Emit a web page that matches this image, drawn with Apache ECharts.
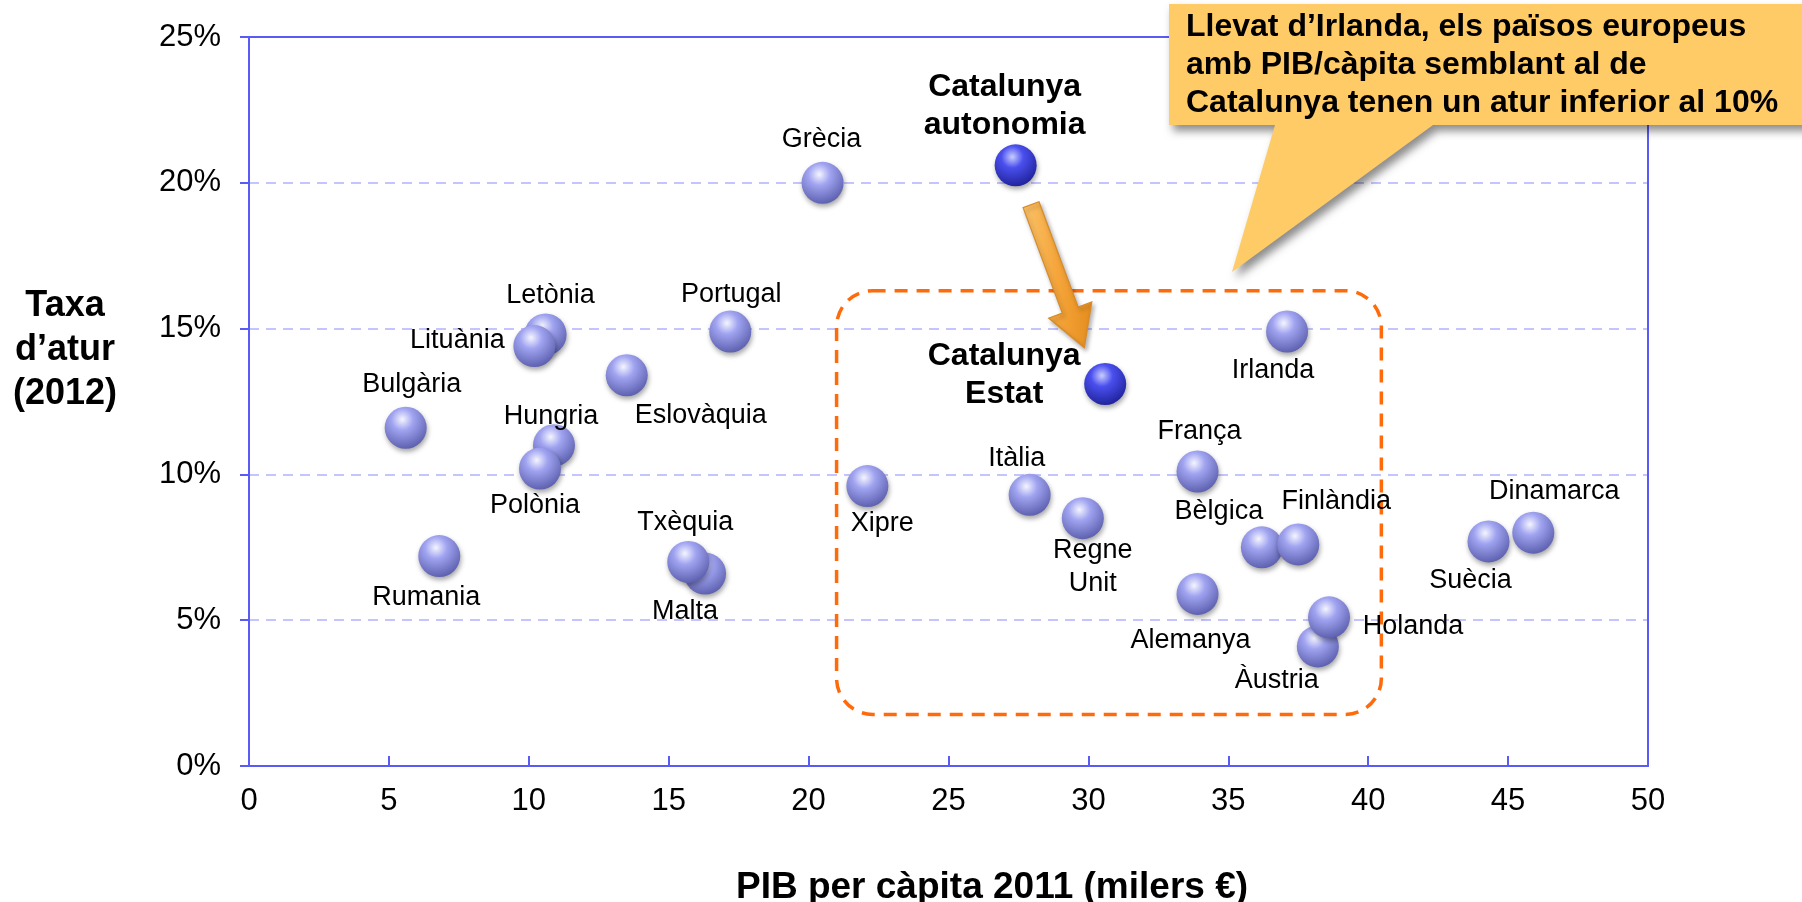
<!DOCTYPE html>
<html>
<head>
<meta charset="utf-8">
<script src="https://cdn.jsdelivr.net/npm/echarts@6/dist/echarts.min.js"></script>
<style>
  html, body { margin: 0; padding: 0; background: #fff; }
  #chart { width: 1802px; height: 902px; }
</style>
</head>
<body>
<div id="chart"></div>
<script>
// País, PIB per càpita 2011 (milers €), taxa d'atur 2012 (%)
const countries = ['Bulgària', 'Rumania', 'Letònia', 'Lituània', 'Hungria', 'Polònia', 'Eslovàquia',
  'Portugal', 'Malta', 'Txèquia', 'Grècia', 'Xipre', 'Itàlia', 'Regne\nUnit', 'França', 'Alemanya',
  'Bèlgica', 'Finlàndia', 'Àustria', 'Holanda', 'Irlanda', 'Suècia', 'Dinamarca'];
const pib = [5.6, 6.8, 10.6, 10.2, 10.9, 10.4, 13.5, 17.2, 16.3, 15.7, 20.5, 22.1, 27.9, 29.8, 33.9, 33.9,
  36.2, 37.5, 38.2, 38.6, 37.1, 44.3, 45.9];
const atur = [11.6, 7.2, 14.8, 14.4, 11.0, 10.2, 13.4, 14.9, 6.6, 7.0, 20.0, 9.6, 9.3, 8.5, 10.1, 5.9,
  7.5, 7.6, 4.1, 5.1, 14.9, 7.7, 8.0];

const catNames = ['Catalunya\nautonomia', 'Catalunya\nEstat'];
const catPib = [27.4, 30.6];
const catAtur = [20.6, 13.1];

const xTicks = [0, 50, 5];
const yTicks = [0, 25, 5];

const noteLines = ['Llevat d\u2019Irlanda, els països europeus', 'amb PIB/càpita semblant al de', 'Catalunya tenen un atur inferior al 10%'];

// posició de les etiquetes respecte al centre de la bola (px)
const labelOffset = {
  'Bulgària': [6, -43], 'Rumania': [-13, 41], 'Letònia': [5, -39], 'Lituània': [-77, -6],
  'Hungria': [-3, -29], 'Polònia': [-5, 37], 'Eslovàquia': [74, 40], 'Portugal': [1, -37],
  'Txèquia': [-3, -39], 'Malta': [-20, 38], 'Grècia': [-1, -43], 'Xipre': [15, 37],
  'Itàlia': [-13, -36], 'Regne\nUnit': [10, 49], 'França': [2, -40], 'Bèlgica': [-43, -36],
  'Finlàndia': [38, -43], 'Alemanya': [-7, 47], 'Holanda': [84, 9], 'Àustria': [-41, 34],
  'Irlanda': [-14, 39], 'Suècia': [-18, 39], 'Dinamarca': [21, -41],
  'Catalunya\nautonomia': [-11, -59], 'Catalunya\nEstat': [-101, -9]
};

const FONT = '"Liberation Sans", Arial, sans-serif';
const BLUE = '#5a5af5';

function sphere(light, mid, dark) {
  return {
    type: 'radial', x: 0.42, y: 0.3, r: 0.75,
    colorStops: [
      { offset: 0, color: light },
      { offset: 0.35, color: mid },
      { offset: 1, color: dark }
    ]
  };
}

function points(names, xs, ys, bold) {
  return names.map((n, i) => ({
    name: n,
    value: [xs[i], ys[i]],
    label: {
      offset: labelOffset[n] || [0, -40],
      fontWeight: bold ? 'bold' : 'normal',
      fontSize: bold ? 32 : 27,
      lineHeight: bold ? 38 : 33
    }
  }));
}

const chartDom = document.getElementById('chart');
const myChart = echarts.init(chartDom);

const labelBase = {
  show: true,
  position: 'inside',
  formatter: '{b}',
  color: '#000',
  opacity: 1,
  textBorderWidth: 0,
  fontFamily: FONT,
  align: 'center',
  verticalAlign: 'middle'
};

const frameAxis = {
  type: 'value',
  axisLine: { show: true, onZero: false, lineStyle: { color: BLUE, width: 2 } },
  axisTick: { show: false },
  axisLabel: { show: false },
  splitLine: { show: false }
};

const option = {
  animation: false,
  backgroundColor: '#fff',
  grid: { left: 249, right: 154, top: 37, bottom: 136 },
  xAxis: [
    {
      type: 'value', min: xTicks[0], max: xTicks[1], interval: xTicks[2],
      axisLine: { show: true, onZero: false, lineStyle: { color: BLUE, width: 2 } },
      axisTick: { show: true, inside: true, length: 10, lineStyle: { color: BLUE, width: 2 } },
      splitLine: { show: false },
      axisLabel: { color: '#000', fontSize: 31, fontFamily: FONT, margin: 20 }
    },
    Object.assign({ position: 'top', min: xTicks[0], max: xTicks[1] }, frameAxis)
  ],
  yAxis: [
    {
      type: 'value', min: yTicks[0], max: yTicks[1], interval: yTicks[2],
      axisLine: { show: true, onZero: false, lineStyle: { color: BLUE, width: 2 } },
      axisTick: { show: true, inside: false, length: 9, lineStyle: { color: BLUE, width: 2 } },
      splitLine: { show: true, lineStyle: { color: '#c4c4ff', width: 2, type: [10, 7] } },
      axisLabel: { color: '#000', fontSize: 31, fontFamily: FONT, margin: 28, formatter: '{value}%' }
    },
    Object.assign({ position: 'right', min: yTicks[0], max: yTicks[1] }, frameAxis)
  ],
  series: [
    {
      name: 'Europa',
      type: 'scatter',
      symbolSize: 42,
      data: points(countries, pib, atur, false),
      itemStyle: {
        opacity: 1,
        color: sphere('#f4f5ff', '#a0a3f0', '#565aa8'),
        shadowColor: 'rgba(0,0,0,0.35)', shadowBlur: 5, shadowOffsetX: 1, shadowOffsetY: 3
      },
      label: labelBase,
      emphasis: { disabled: true }
    },
    {
      name: 'Catalunya',
      type: 'scatter',
      symbolSize: 42,
      data: points(catNames, catPib, catAtur, true),
      itemStyle: {
        opacity: 1,
        color: sphere('#c9cdff', '#4a4fee', '#1c1f94'),
        shadowColor: 'rgba(0,0,0,0.35)', shadowBlur: 5, shadowOffsetX: 1, shadowOffsetY: 3
      },
      label: labelBase,
      emphasis: { disabled: true }
    }
  ]
};

myChart.setOption(option);

// anotacions: requadre de països semblants, fletxa i globus de text
const px = p => myChart.convertToPixel({ gridIndex: 0 }, p);
const boxA = px([21.0, 16.3]);
const boxB = px([40.47, 1.77]);

const arrowFrom = px([27.95, 19.25]);
const arrowTo = px([29.85, 14.35]);
function arrowShape(s, t) {
  const dx = t[0] - s[0], dy = t[1] - s[1];
  const len = Math.sqrt(dx * dx + dy * dy);
  const ux = dx / len, uy = dy / len;
  const nx = -uy, ny = ux;
  const w = 8.5, h = 23, L = 40;
  const b = [t[0] - ux * L, t[1] - uy * L];
  return [
    [s[0] + nx * w, s[1] + ny * w], [b[0] + nx * w, b[1] + ny * w], [b[0] + nx * h, b[1] + ny * h],
    [t[0], t[1]],
    [b[0] - nx * h, b[1] - ny * h], [b[0] - nx * w, b[1] - ny * w], [s[0] - nx * w, s[1] - ny * w]
  ];
}

myChart.setOption({
  graphic: [
    {
      type: 'rect', z: 1,
      shape: { x: boxA[0], y: boxA[1], width: boxB[0] - boxA[0], height: boxB[1] - boxA[1], r: 36 },
      style: { fill: 'none', stroke: '#ff6a0a', lineWidth: 3.5, lineDash: [13, 9] },
      silent: true
    },
    {
      type: 'polygon', z: 5,
      shape: { points: arrowShape(arrowFrom, arrowTo) },
      style: {
        fill: { type: 'linear', x: 0, y: 0, x2: 1, y2: 0, colorStops: [
          { offset: 0, color: '#fbc36a' }, { offset: 0.5, color: '#f5a53a' }, { offset: 1, color: '#e58d1e' }
        ] },
        stroke: '#d98a26', lineWidth: 1.2,
        shadowColor: 'rgba(0,0,0,0.3)', shadowBlur: 4, shadowOffsetX: 2, shadowOffsetY: 3
      },
      silent: true
    },
    {
      type: 'polygon', z: 10,
      shape: { points: [[1169, 4], [1810, 4], [1810, 125], [1433, 125], [1232, 272], [1275, 125], [1169, 125]] },
      style: {
        fill: '#ffcb66',
        shadowColor: 'rgba(0,0,0,0.45)', shadowBlur: 8, shadowOffsetX: 4, shadowOffsetY: 6
      },
      silent: true
    },
    {
      type: 'text', z: 11,
      style: {
        text: noteLines.join('\n'), fill: '#000', font: 'bold 32px ' + FONT, lineHeight: 38,
        x: 1186, y: 65, verticalAlign: 'middle'
      },
      silent: true
    },
    {
      type: 'text', z: 11,
      style: {
        text: 'Taxa\nd\u2019atur\n(2012)', fill: '#000', font: 'bold 36px ' + FONT,
        lineHeight: 44, x: 65, y: 350, align: 'center', verticalAlign: 'middle'
      },
      silent: true
    },
    {
      type: 'text', z: 11,
      style: {
        text: 'PIB per càpita 2011 (milers €)', fill: '#000', font: 'bold 37px ' + FONT,
        x: 992, y: 888, align: 'center', verticalAlign: 'middle'
      },
      silent: true
    }
  ]
});

window.addEventListener('resize', () => myChart.resize());
</script>
</body>
</html>
